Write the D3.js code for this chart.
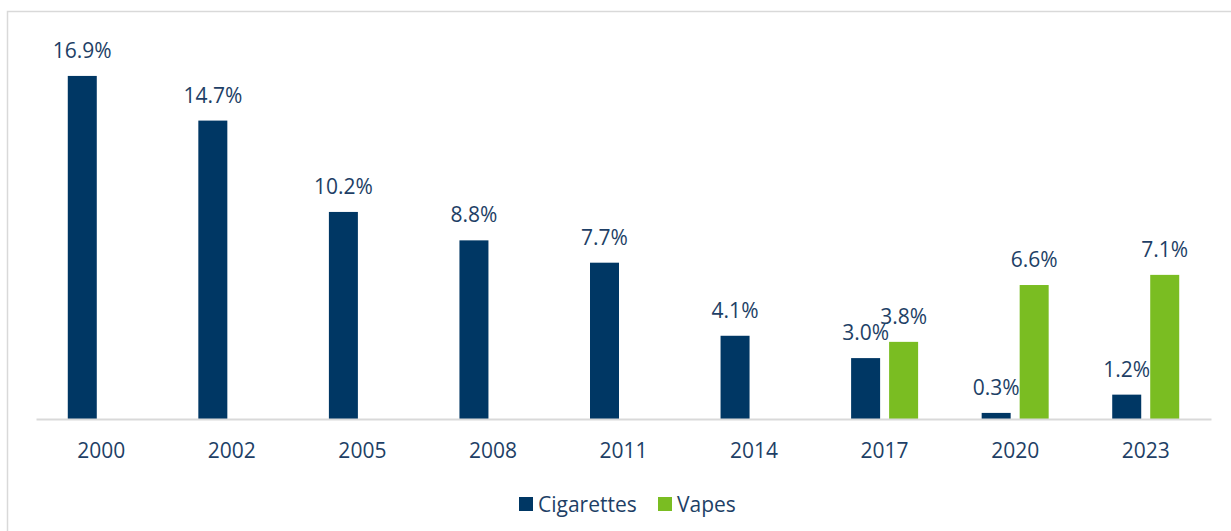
<!DOCTYPE html>
<html>
<head>
<meta charset="utf-8">
<script src="https://cdn.jsdelivr.net/npm/d3@7/dist/d3.min.js"></script>
<style>
  html, body { margin: 0; padding: 0; background: #fff; }
  svg { display: block; font-family: "Open Sans", sans-serif; }
</style>
</head>
<body>
<svg id="chart" width="1231" height="531"></svg>
<script>
// Youth smoking and vaping prevalence by survey year
const years = ["2000", "2002", "2005", "2008", "2011", "2014", "2017", "2020", "2023"];
const cigarettes = [16.9, 14.7, 10.2, 8.8, 7.7, 4.1, 3.0, 0.3, 1.2];
const vapes = [null, null, null, null, null, null, 3.8, 6.6, 7.1];
const seriesNames = ["Cigarettes", "Vapes"];
const seriesColors = ["#003764", "#7abd22"];

const textColor = "#1e3f66";
const svg = d3.select("#chart");

// Outer frame
svg.append("rect")
  .attr("x", 7.5).attr("y", 11.5)
  .attr("width", 1300).attr("height", 600)
  .attr("fill", "none")
  .attr("stroke", "#d9d9d9")
  .attr("stroke-width", 1.5);

const plot = { left: 36, right: 1211, baseline: 419 };

const x = d3.scaleBand().domain(years).range([plot.left, plot.right]).padding(0);
const barW = 29, barGap = 9;
const groupW = barW * 2 + barGap;
const y = d3.scaleLinear().domain([0, 18]).range([plot.baseline, plot.baseline - 18 * 20.3]);

const series = [cigarettes, vapes];
series.forEach((vals, si) => {
  const data = years.map((yr, i) => ({ yr, v: vals[i] })).filter(d => d.v != null);
  const offset = -groupW / 2 + si * (barW + barGap);
  const g = svg.append("g");
  g.selectAll("rect").data(data).enter().append("rect")
    .attr("x", d => x(d.yr) + x.bandwidth() / 2 + offset)
    .attr("y", d => y(d.v))
    .attr("width", barW)
    .attr("height", d => y(0) - y(d.v))
    .attr("fill", seriesColors[si]);
  g.selectAll("text").data(data).enter().append("text")
    .attr("x", d => x(d.yr) + x.bandwidth() / 2 + offset + barW / 2)
    .attr("y", d => y(d.v) - 18)
    .attr("text-anchor", "middle")
    .attr("font-size", 21)
    .attr("fill", textColor)
    .text(d => d.v.toFixed(1) + "%");
});

// Category axis
const axis = svg.append("g")
  .attr("transform", `translate(0,${plot.baseline})`)
  .call(d3.axisBottom(x).tickSize(0).tickPadding(0));
axis.select(".domain").attr("stroke", "#d9d9d9").attr("stroke-width", 2);
axis.selectAll("text")
  .attr("font-size", 21)
  .attr("font-family", "Open Sans, sans-serif")
  .attr("fill", textColor)
  .attr("dy", null)
  .attr("y", 39);

// Legend
const legendItems = [
  { name: seriesNames[0], color: seriesColors[0], x: 519 },
  { name: seriesNames[1], color: seriesColors[1], x: 658 }
];
const lg = svg.append("g");
legendItems.forEach(it => {
  lg.append("rect").attr("x", it.x).attr("y", 497).attr("width", 14).attr("height", 14).attr("fill", it.color);
  lg.append("text").attr("x", it.x + 19).attr("y", 512)
    .attr("font-size", 21).attr("fill", textColor).text(it.name);
});
</script>
</body>
</html>
